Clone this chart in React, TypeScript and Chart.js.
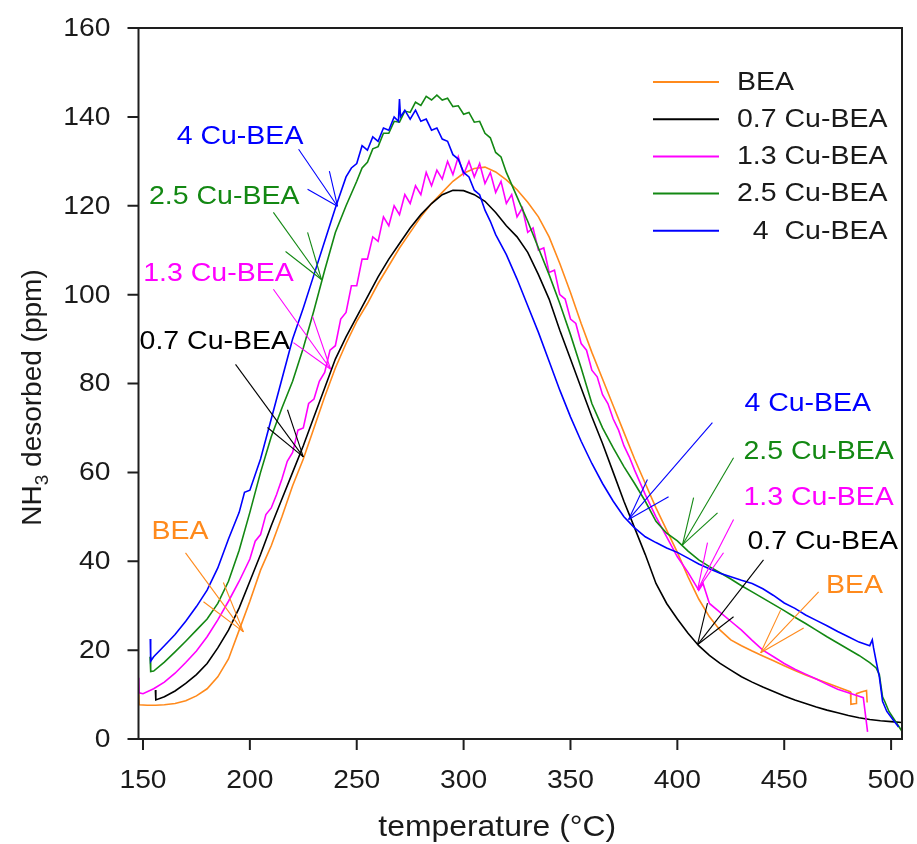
import React, { useEffect, useRef } from "react";
import { Chart, registerables } from "chart.js";

Chart.register(...registerables);

// ---------- axes ----------
const X_TICKS = [150, 200, 250, 300, 350, 400, 450, 500];
const Y_TICKS = [0, 20, 40, 60, 80, 100, 120, 140, 160];
const X_MIN = 147.9;
const X_MAX = 505.1;
const Y_MIN = 0;
const Y_MAX = 160;
const X_TITLE = "temperature (°C)";
const Y_TITLE_MAIN = "NH";
const Y_TITLE_SUB = "3";
const Y_TITLE_REST = " desorbed (ppm)";

// ---------- series ----------
const SERIES_NAMES = ["BEA", "0.7 Cu-BEA", "1.3 Cu-BEA", "2.5 Cu-BEA", "4 Cu-BEA"];
const LEGEND_LABELS = ["BEA", "0.7 Cu-BEA", "1.3 Cu-BEA", "2.5 Cu-BEA", "  4  Cu-BEA"];
const SERIES_COLORS = ["#ff8a1c", "#000000", "#ff00ff", "#138813", "#0000ff"];

const BEA: [number, number][] = [
  [148.0, 10.4], [148.2, 7.7], [152, 7.6], [156, 7.6], [160, 7.7], [165, 8.0], [170, 8.6], [175, 9.7],
  [180, 11.3], [185, 14.0], [190, 18.0], [195, 24.5], [200, 31.0], [205, 38.0], [210, 43.5], [215, 50.0],
  [220, 57.0], [225, 63.0], [230, 70.0], [235, 77.0], [240, 83.5], [245, 89.0], [250, 94.0], [255, 98.0],
  [260, 102.5], [265, 106.5], [270, 110.5], [275, 114.0], [280, 117.5], [285, 120.5], [290, 123.0],
  [295, 125.5], [300, 127.3], [305, 128.4], [310, 128.7], [315, 127.6], [320, 125.8], [325, 123.6],
  [330, 120.8], [335, 117.5], [340, 113.0], [345, 107.0], [350, 100.5], [355, 93.5], [360, 87.0],
  [365, 81.0], [370, 75.0], [375, 69.0], [380, 63.0], [385, 57.5], [390, 52.0], [395, 47.0], [400, 42.0],
  [405, 36.5], [410, 31.5], [415, 27.5], [420, 24.5], [425, 22.3], [430, 21.0], [435, 19.8], [440, 18.7],
  [445, 17.6], [450, 16.5], [455, 15.4], [460, 14.4], [465, 13.5], [470, 12.6], [475, 11.7], [480, 10.8],
  [481, 10.6], [481.2, 7.8], [483.6, 8.0], [483.8, 10.2], [486, 10.6], [488.5, 10.9], [488.8, 8.2],
];

const CU07: [number, number][] = [
  [155.8, 11.0], [156.0, 8.8], [160, 9.5], [165, 10.8], [170, 12.5], [175, 14.5], [180, 17.0], [185, 20.5],
  [190, 24.5], [195, 29.5], [200, 35.5], [205, 41.5], [210, 48.0], [215, 54.0], [220, 60.0], [225, 66.0],
  [230, 72.5], [235, 79.0], [240, 85.5], [245, 90.5], [250, 95.0], [255, 99.5], [260, 104.0], [265, 108.0],
  [270, 111.5], [275, 115.0], [280, 118.0], [285, 120.5], [290, 122.5], [295, 123.5], [300, 123.4],
  [305, 122.5], [310, 121.0], [315, 118.5], [320, 115.5], [325, 113.0], [330, 109.5], [335, 104.5],
  [340, 99.0], [345, 92.0], [350, 85.5], [355, 79.0], [360, 72.5], [365, 66.5], [370, 60.0], [375, 53.5],
  [380, 47.5], [385, 41.5], [390, 35.0], [395, 30.5], [400, 27.0], [405, 23.8], [410, 21.0], [415, 18.8],
  [420, 17.0], [425, 15.5], [430, 14.0], [435, 12.8], [440, 11.7], [445, 10.7], [450, 9.7], [455, 8.8],
  [460, 8.0], [465, 7.2], [470, 6.5], [475, 5.9], [480, 5.3], [485, 4.8], [490, 4.4], [495, 4.1],
  [500, 3.9], [505, 3.7],
];

const CU13: [number, number][] = [
  [148.0, 13.8], [148.2, 10.4], [150, 10.2], [155, 11.3], [160, 12.8], [165, 14.8], [170, 17.2], [175, 19.8],
  [180, 23.0], [185, 26.8], [190, 31.0], [195, 35.5], [200, 40.5], [202.5, 44.5], [205, 46.0], [207.5, 50.5],
  [210, 52.0], [212.5, 55.0], [215, 58.5], [217.5, 62.5], [220, 64.5], [222.5, 69.5], [225, 70.0],
  [227.5, 75.5], [230, 76.5], [232.5, 80.5], [235, 82.5], [237.5, 87.5], [240, 88.5], [242.5, 94.5],
  [245, 96.0], [247.5, 102.0], [250, 102.0], [252.5, 108.0], [255, 108.0], [257.5, 113.0], [260, 112.0],
  [262.5, 117.5], [265, 115.5], [267.5, 120.0], [270, 118.0], [272.5, 122.5], [275, 120.5], [277.5, 124.5],
  [280, 122.5], [282.5, 127.5], [285, 124.5], [287.5, 128.0], [290, 126.0], [292.5, 130.0], [295, 127.0],
  [297.5, 131.0], [300, 127.0], [302.5, 130.0], [305, 126.5], [307.5, 129.5], [310, 125.0], [312.5, 127.5],
  [315, 123.0], [317.5, 125.5], [320, 120.5], [322.5, 122.5], [325, 117.5], [327.5, 119.5], [330, 114.0],
  [332.5, 115.0], [335, 110.0], [337.5, 110.5], [340, 105.0], [342.5, 105.5], [345, 100.0], [347.5, 99.0],
  [350, 94.5], [352.5, 93.5], [355, 89.0], [357.5, 87.5], [360, 83.0], [362.5, 81.5], [365, 77.5],
  [367.5, 75.5], [370, 72.0], [372.5, 69.5], [375, 66.0], [377.5, 63.5], [380, 60.5], [385, 55.0],
  [390, 50.0], [395, 45.5], [400, 41.0], [405, 37.5], [410, 33.5], [412, 35.0], [415, 30.5], [420, 28.5],
  [425, 26.5], [430, 24.5], [435, 22.2], [440, 20.0], [445, 18.5], [450, 17.0], [455, 15.7], [460, 14.6],
  [465, 13.5], [470, 12.3], [475, 11.2], [480, 10.4], [485, 9.6], [487, 9.3], [489, 1.6],
];

const CU25: [number, number][] = [
  [153.3, 18.5], [153.6, 15.2], [155, 15.3], [160, 17.3], [165, 19.6], [170, 22.0], [175, 24.5], [180, 27.0],
  [185, 30.5], [190, 35.5], [195, 42.5], [200, 51.0], [205, 60.0], [210, 68.0], [215, 74.5], [220, 80.5],
  [225, 88.0], [230, 96.5], [235, 105.5], [240, 114.0], [245, 120.0], [250, 125.5], [252.5, 128.5],
  [255, 129.8], [257.5, 132.8], [260, 133.3], [262.5, 136.3], [265, 136.3], [267.5, 139.0], [270, 138.8],
  [272.5, 141.3], [275, 141.0], [277.5, 143.3], [280, 142.6], [282.5, 144.6], [285, 143.8], [287.5, 144.9],
  [290, 143.8], [292.5, 144.2], [295, 142.3], [297.5, 142.5], [300, 140.6], [302.5, 141.0], [305, 138.8],
  [307.5, 139.0], [310, 136.3], [312.5, 135.3], [315, 132.0], [317.5, 131.0], [320, 127.5], [325, 122.0],
  [330, 116.5], [335, 110.5], [340, 104.5], [345, 98.0], [350, 91.0], [355, 83.5], [360, 75.5], [365, 70.0],
  [370, 65.5], [375, 61.3], [380, 57.5], [385, 53.5], [390, 49.0], [395, 46.3], [400, 44.6], [405, 42.3],
  [410, 40.3], [415, 38.8], [420, 37.4], [425, 36.0], [430, 34.5], [435, 33.1], [440, 31.7], [445, 30.3],
  [450, 28.9], [455, 27.4], [460, 26.0], [465, 24.5], [470, 23.0], [475, 21.6], [480, 20.2], [485, 18.8],
  [490, 17.2], [493, 16.0], [494.5, 14.5], [496, 9.5], [497, 8.5], [499, 6.2], [502, 4.0], [505, 1.8],
];

const CU4: [number, number][] = [
  [153.4, 22.5], [153.6, 17.5], [155, 18.5], [160, 21.0], [165, 23.5], [170, 26.5], [175, 29.8], [180, 33.5],
  [185, 38.5], [190, 45.0], [195, 51.0], [197.5, 55.5], [200, 56.0], [205, 63.0], [210, 72.0], [215, 81.0],
  [220, 90.0], [225, 97.0], [230, 104.5], [235, 112.0], [240, 119.5], [245, 126.5], [247.5, 128.5],
  [250, 129.5], [252.5, 133.5], [255, 132.5], [257.5, 135.5], [260, 134.5], [262.5, 137.5], [265, 137.0],
  [267.5, 140.0], [269.5, 139.0], [270, 144.0], [270.5, 140.0], [272.5, 141.5], [275, 139.5], [277.5, 141.5],
  [280, 139.0], [282.5, 139.5], [285, 137.0], [287.5, 137.5], [290, 135.0], [292.5, 134.5], [295, 131.5],
  [297.5, 130.5], [300, 127.5], [302.5, 126.5], [305, 123.5], [307.5, 122.5], [310, 119.0], [312.5, 116.5],
  [315, 113.5], [320, 109.0], [325, 103.5], [330, 97.5], [335, 91.5], [340, 85.0], [345, 78.5], [350, 72.5],
  [355, 67.0], [360, 62.0], [365, 57.5], [370, 53.5], [375, 50.0], [380, 47.5], [385, 45.5], [390, 44.2],
  [395, 43.0], [400, 42.0], [405, 40.7], [410, 39.4], [415, 38.3], [420, 37.3], [425, 36.5], [430, 35.7],
  [435, 35.0], [440, 33.8], [445, 32.3], [450, 30.6], [455, 29.4], [460, 27.9], [465, 26.7], [470, 25.5],
  [475, 24.2], [480, 23.0], [485, 21.8], [490, 21.0], [491.2, 22.3], [491.8, 20.5], [493, 17.5],
  [494.5, 14.0], [496, 8.5], [498, 6.2], [501, 4.3], [503.5, 2.7],
];

const SERIES_DATA = [BEA, CU07, CU13, CU25, CU4];

// ---------- callout labels (data coordinates) ----------
type Callout = { text: string; color: number; at: [number, number]; target: [number, number]; from: [number, number][] };
const CALLOUTS: Callout[] = [
  { text: "4 Cu-BEA", color: 4, at: [195.4, 135.5], target: [241.0, 119.9], from: [[222.8, 132.7], [227.0, 123.7], [237.2, 127.8]] },
  { text: "2.5 Cu-BEA", color: 3, at: [188.0, 122.0], target: [233.5, 103.4], from: [[211.0, 118.5], [216.7, 109.7], [227.0, 114.0]] },
  { text: "1.3 Cu-BEA", color: 2, at: [185.3, 104.6], target: [237.8, 83.2], from: [[211.0, 101.2], [220.4, 89.2], [229.3, 95.1]] },
  { text: "0.7 Cu-BEA", color: 1, at: [183.6, 89.4], target: [225.0, 63.5], from: [[193.3, 84.3], [208.2, 70.1], [217.6, 74.1]] },
  { text: "BEA", color: 0, at: [167.3, 46.6], target: [197.0, 24.1], from: [[169.9, 41.9], [178.3, 30.9], [187.6, 35.2]] },
  { text: "4 Cu-BEA", color: 4, at: [461.0, 75.3], target: [377.2, 49.4], from: [[416.4, 71.2], [386.0, 58.4], [395.9, 54.5]] },
  { text: "2.5 Cu-BEA", color: 3, at: [466.1, 64.5], target: [402.4, 43.7], from: [[426.3, 63.3], [407.6, 54.3], [418.8, 50.9]] },
  { text: "1.3 Cu-BEA", color: 2, at: [466.1, 54.1], target: [409.5, 33.6], from: [[426.3, 49.4], [414.1, 44.2], [421.6, 41.9]] },
  { text: "0.7 Cu-BEA", color: 1, at: [468.0, 44.4], target: [409.4, 21.2], from: [[440.3, 40.3], [426.3, 27.5], [414.1, 30.6]] },
  { text: "BEA", color: 0, at: [482.9, 34.3], target: [439.0, 19.4], from: [[466.1, 33.1], [459.1, 25.0], [448.3, 29.0]] },
];

const FONT = "'Liberation Sans', Arial, Helvetica, sans-serif";

function drawText(
  ctx: CanvasRenderingContext2D,
  s: string,
  x: number,
  y: number,
  size: number,
  color: string,
  align: CanvasTextAlign,
  baseline: CanvasTextBaseline,
  sx: number
) {
  ctx.save();
  ctx.translate(x, y);
  ctx.scale(sx, 1);
  ctx.font = `${size}px ${FONT}`;
  ctx.fillStyle = color;
  ctx.textAlign = align;
  ctx.textBaseline = baseline;
  ctx.fillText(s, 0, 0);
  ctx.restore();
}

const decorPlugin = {
  id: "decor",
  afterDraw(chart: any) {
    const ctx: CanvasRenderingContext2D = chart.ctx;
    const { left, right, top, bottom } = chart.chartArea;
    const xs = chart.scales.x;
    const ys = chart.scales.y;
    const axisColor = "#1e1e1e";

    // callouts
    CALLOUTS.forEach((c) => {
      const col = SERIES_COLORS[c.color];
      const tx = xs.getPixelForValue(c.target[0]);
      const ty = ys.getPixelForValue(c.target[1]);
      ctx.save();
      ctx.strokeStyle = col;
      ctx.lineWidth = 1.1;
      c.from.forEach(([fx, fy]) => {
        ctx.beginPath();
        ctx.moveTo(xs.getPixelForValue(fx), ys.getPixelForValue(fy));
        ctx.lineTo(tx, ty);
        ctx.stroke();
      });
      ctx.restore();
      drawText(ctx, c.text, xs.getPixelForValue(c.at[0]), ys.getPixelForValue(c.at[1]), 25, col, "center", "middle", 1.14);
    });

    // frame
    ctx.save();
    ctx.strokeStyle = axisColor;
    ctx.lineWidth = 2;
    ctx.beginPath();
    ctx.moveTo(left - 11, top);
    ctx.lineTo(right, top);
    ctx.lineTo(right, bottom);
    ctx.lineTo(left - 11, bottom);
    ctx.moveTo(left, top);
    ctx.lineTo(left, bottom);
    Y_TICKS.forEach((v) => {
      const py = ys.getPixelForValue(v);
      ctx.moveTo(left - 11, py);
      ctx.lineTo(left, py);
    });
    X_TICKS.forEach((v) => {
      const px = xs.getPixelForValue(v);
      ctx.moveTo(px, bottom);
      ctx.lineTo(px, bottom + 11);
    });
    ctx.stroke();
    ctx.restore();

    // tick labels
    Y_TICKS.forEach((v) => {
      drawText(ctx, String(v), left - 28, ys.getPixelForValue(v) + 1, 25, "#1a1a1a", "right", "middle", 1.13);
    });
    X_TICKS.forEach((v) => {
      drawText(ctx, String(v), xs.getPixelForValue(v), bottom + 49, 25, "#1a1a1a", "center", "alphabetic", 1.13);
    });

    // x title
    drawText(ctx, X_TITLE, (left + right) / 2 - 23, bottom + 97, 29, "#1a1a1a", "center", "alphabetic", 1.1);

    // y title with subscript
    ctx.save();
    ctx.translate(41, (top + bottom) / 2 + 14);
    ctx.rotate(-Math.PI / 2);
    ctx.fillStyle = "#1a1a1a";
    ctx.textBaseline = "alphabetic";
    ctx.textAlign = "left";
    const big = `28px ${FONT}`;
    const small = `19px ${FONT}`;
    ctx.font = big;
    const w1 = ctx.measureText(Y_TITLE_MAIN).width;
    const w3 = ctx.measureText(Y_TITLE_REST).width;
    ctx.font = small;
    const w2 = ctx.measureText(Y_TITLE_SUB).width;
    let x0 = -(w1 + w2 + w3) / 2;
    ctx.font = big;
    ctx.fillText(Y_TITLE_MAIN, x0, 0);
    x0 += w1;
    ctx.font = small;
    ctx.fillText(Y_TITLE_SUB, x0, 7);
    x0 += w2;
    ctx.font = big;
    ctx.fillText(Y_TITLE_REST, x0, 0);
    ctx.restore();

    // legend
    LEGEND_LABELS.forEach((lab, i) => {
      const y = top + 54 + i * 37.2;
      ctx.save();
      ctx.strokeStyle = SERIES_COLORS[i];
      ctx.lineWidth = 2;
      ctx.beginPath();
      ctx.moveTo(right - 249, y);
      ctx.lineTo(right - 183, y);
      ctx.stroke();
      ctx.restore();
      drawText(ctx, lab, right - 165, y + 1, 25, "#1a1a1a", "left", "middle", 1.14);
    });
  },
};

export default function App() {
  const ref = useRef<HTMLCanvasElement | null>(null);
  useEffect(() => {
    if (!ref.current) return;
    const chart = new Chart(ref.current, {
      type: "line",
      data: {
        datasets: SERIES_DATA.map((pts, i) => ({
          label: SERIES_NAMES[i],
          data: pts.map(([x, y]) => ({ x, y })),
          borderColor: SERIES_COLORS[i],
          backgroundColor: SERIES_COLORS[i],
          borderWidth: 1.6,
          pointRadius: 0,
          tension: 0,
          fill: false,
          order: 5 - i,
        })),
      },
      options: {
        animation: false,
        responsive: false,
        events: [],
        layout: { padding: { left: 138.5, top: 28, right: 15, bottom: 105 } },
        scales: {
          x: { type: "linear", min: X_MIN, max: X_MAX, display: false },
          y: { type: "linear", min: Y_MIN, max: Y_MAX, display: false },
        },
        plugins: { legend: { display: false }, tooltip: { enabled: false }, title: { display: false } },
      },
      plugins: [decorPlugin],
    });
    return () => chart.destroy();
  }, []);
  return (
    <div style={{ position: "absolute", left: 0, top: 0, width: 917, height: 844, background: "#fff" }}>
      <canvas ref={ref} width={917} height={844} style={{ width: 917, height: 844, display: "block" }} />
    </div>
  );
}
